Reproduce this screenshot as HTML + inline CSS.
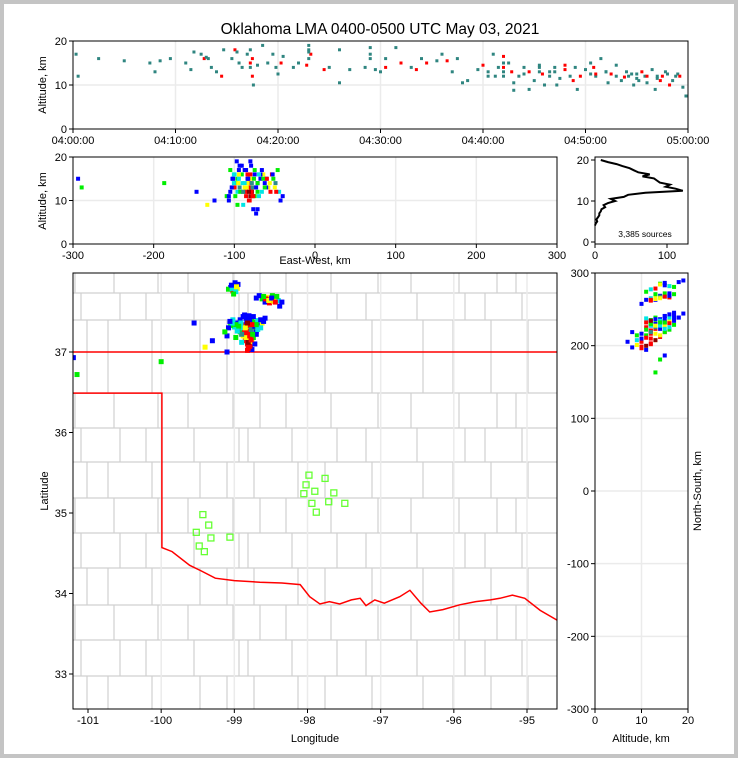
<!DOCTYPE html>
<html><head><meta charset="utf-8">
<style>
html,body{margin:0;padding:0;background:#fff}
#frame{position:absolute;left:0;top:0;width:730px;height:750px;border:4px solid #c4c4c4;background:#fff}
svg{position:absolute;left:0;top:0}
text{font-family:"Liberation Sans",sans-serif;fill:#000}
</style></head>
<body>
<div id="frame"></div>
<svg id="fig" width="738" height="758"></svg>
<script>
// ---- data ----
const timeTicks = ["04:00:00","04:10:00","04:20:00","04:30:00","04:40:00","04:50:00","05:00:00"];
const altTicks = [0,10,20];
const ewTicks = [-300,-200,-100,0,100,200,300];
const lonTicks = [-101,-100,-99,-98,-97,-96,-95];
const latTicks = [33,34,35,36,37];
const nsTicks = [-300,-200,-100,0,100,200,300];
const histTicks = [0,100];
const altTicksR = [0,10,20];
// time-height sources: [minutes, alt km, colorIdx(0 teal,1 red)]
const tsTime = [0.3,0.5,2.5,5,7.5,8,8.5,9.5,11,11.8,12.5,12.8,13,13.5,14,14.5,14.7,15.5,15.8,16,16.5,17,17.5,17.5,17.6,18,18.5,19,19.5,20,20.3,20.5,21.5,22,22.8,23,23,23.2,24.5,25,26,26,27,28.5,29,29.5,30,30.5,30.5,31.5,32,33,33.5,34,34.5,35.5,36,36.5,37,37.5,38,38.5,39.5,40,40.5,41,41.5,42,42,42.5,42.8,43,43.5,44,44.5,45,45.5,45.8,46,46.5,47,47.5,48,48.5,49,49.5,50,50.5,50.8,51,51.5,52,52.5,53,53.5,54,54.5,55,55.5,55.8,56,56.5,57,57.3,57.8,58.5,59,59.5,59.8,58.2,56.8,54.7,52.2,49.2,47.2,44.5,43,48.8,53.8,
 17.3,17.3,17.3,23,23,29,29,42,42,42,45.5,45.5,46.5,48,50.5,52,55,56,57,58,59.2,40.5,41.2,44,47,51,53,54.2,55.2,57.5,58.8,11.5,16.2,19.8,13.2];
const tsAlt = [17,12,16,15.5,15,13,15.5,16,15,17.5,17,16,16.3,14,13,12,18,16,18,17.5,14,17,16,12,10,14.5,19,15,17,12.5,15,16.5,14,15,14.5,19,16,17,13.5,14,18,10.5,13.5,14,18.5,13.5,13,14,16,18.5,15,14,13.5,16,15,15.5,17,15.5,13,16,10.5,11,13.5,14.5,13,17,14,12,16.5,15,13,10.5,12,14,13,11,14.5,12.5,10,13,14,11.5,13.5,12,14,12,13.5,15,14,12,16,13,12.5,14.5,11,13,12.5,11.5,13,12,10.5,13.5,12,11,13,11,12.5,9.5,7.5,10,9,10,10.5,9,10,9,8.8,11,11.8,
 14,15,18,18,17.5,17,16,15,14,13,14,13,12,14.5,12.5,13,12.5,12,11.5,12.5,12,12,12,12.5,13,12.5,12,12,11,12,12,13.5,15,14,16];
const tsColor = [0,0,0,0,0,0,0,0,0,0,0,1,0,0,0,1,0,0,1,0,0,0,1,1,0,0,0,0,0,0,1,0,0,0,1,0,0,1,1,0,0,0,0,0,0,0,0,1,0,0,1,0,1,0,1,0,0,1,0,0,0,0,0,1,0,0,0,0,1,0,1,0,0,0,1,0,0,1,0,0,0,0,1,0,0,1,0,0,1,0,0,0,1,0,0,0,0,0,1,0,0,0,0,1,0,0,0,0,0,1,0,0,0,0,0,0,0,1,1,
 0,1,0,0,0,0,0,0,1,0,0,0,0,1,0,0,0,1,0,0,1,0,0,0,0,1,0,0,0,1,0,0,0,0,0];
// located sources
const srcLon = [-98.80,-98.78,-98.82,-98.76,-98.85,-98.80,-98.74,-98.88,-98.83,-98.78,-98.92,-98.70,-98.95,-98.86,-98.80,-98.74,-99.00,-98.90,-98.84,-98.66,-99.05,-98.96,-98.78,-98.70,-98.62,-99.08,-98.92,-98.84,-98.76,-98.68,-98.60,-99.10,-98.98,-98.70,-98.72,-98.90,-98.82,-98.76,-99.13,-98.86,-98.80,-98.64,-98.58,-99.02,
 -99.05,-99.00,-98.96,-99.02,-98.98,-99.08,-98.95,-98.99,-99.01,
 -98.70,-98.62,-98.55,-98.50,-98.45,-98.40,-98.35,-98.48,-98.58,-98.42,-98.38,-98.66,-98.52,-98.46,
 -99.55,-99.30,-99.40,-99.10,-100.0,-101.2,-101.15,
 -98.79,-98.81,-98.77,-98.84,-98.79,-98.82,-98.75,-98.88,-98.86,-98.80,-98.83,-98.77,-98.91,-98.94,-98.72,-98.68,-98.98,-99.03,-98.88,-98.74,-98.79,-98.85,-98.90,-98.81,-98.70,-98.96,-99.06,-98.64,-98.76,-98.82,
 -98.57,-98.53,-98.49,-98.60,-98.44,-99.03,-98.97,-99.04];
const srcLat = [37.05,37.08,37.10,37.12,37.14,37.16,37.18,37.20,37.22,37.24,37.25,37.26,37.28,37.28,37.30,37.31,37.31,37.33,37.34,37.34,37.33,37.36,37.36,37.37,37.36,37.30,37.40,37.42,37.40,37.39,37.38,37.20,37.18,37.22,37.10,37.12,37.02,37.03,37.25,37.46,37.45,37.30,37.42,37.40,
 37.80,37.82,37.79,37.76,37.75,37.78,37.84,37.86,37.72,
 37.67,37.66,37.68,37.65,37.66,37.64,37.62,37.70,37.62,37.69,37.57,37.70,37.61,37.63,
 37.36,37.14,37.06,37.00,36.88,36.93,36.72,
 37.07,37.12,37.15,37.18,37.20,37.26,37.22,37.30,37.24,37.33,37.38,37.28,37.36,37.32,37.32,37.28,37.34,37.36,37.44,37.44,37.40,37.30,37.22,37.04,37.34,37.26,37.38,37.40,37.34,37.36,
 37.66,37.64,37.67,37.69,37.62,37.79,37.81,37.83];
const srcAlt = [11,12,10,13,12,14,11,13,15,12,16,14,13,11,15,17,14,12,16,15,13,17,14,12,16,12,18,15,13,11,14,10,9,8,7,9,10,8,11,17,19,12,15,16,
 15,14,16,13,12,17,18,19,11,
 14,15,13,16,14,12,11,15,13,17,10,16,12,13,
 12,10,9,11,14,15,13,
 12,13,11,14,12,13,15,14,12,16,15,13,14,12,13,16,15,14,17,16,18,13,12,10,14,15,13,17,11,12,
 15,14,16,13,12,16,14,15];
const srcColor = [5,4,4,3,4,4,2,3,4,5,2,0,6,4,3,2,1,2,4,0,2,0,6,2,3,0,0,0,2,1,0,0,2,0,0,1,4,0,2,0,0,1,0,1,
 0,2,3,4,1,2,0,0,2,
 0,2,3,4,6,1,0,2,0,2,0,0,4,3,
 0,0,3,0,2,0,2,
 4,5,4,3,4,4,2,1,4,4,0,6,1,2,0,1,2,1,0,0,0,3,6,4,2,1,0,0,4,5,
 4,3,0,2,4,1,3,0];
// stations
const staLon = [-97.98,-97.76,-98.02,-97.90,-97.64,-98.05,-97.94,-97.71,-97.49,-97.88,-99.43,-99.35,-99.52,-99.32,-99.06,-99.48,-99.41];
const staLat = [35.47,35.43,35.35,35.27,35.25,35.24,35.12,35.14,35.12,35.01,34.98,34.85,34.76,34.69,34.70,34.59,34.52];
// altitude histogram (counts per altitude)
const histAlt = [20,19.5,19,18.5,18,17.5,17,16.5,16,15.5,15,14.5,14,13.5,13,12.5,12,11.5,11,10.5,10,9.5,9,8.5,8,7.5,7,6.5,6,5.5,5,4.5,4];
const histCnt = [8,18,30,38,48,54,60,76,66,82,86,90,104,98,112,122,70,46,40,22,28,18,12,14,9,8,6,6,4,2,3,1,0];
// state boundary (lon,lat)
const bndLon = [-101.3,-99.99,-99.99,-99.85,-99.61,-99.45,-99.26,-99.0,-98.65,-98.35,-98.10,-97.97,-97.83,-97.70,-97.56,-97.40,-97.28,-97.20,-97.08,-96.95,-96.74,-96.60,-96.45,-96.33,-96.15,-95.92,-95.70,-95.50,-95.37,-95.20,-95.03,-94.82,-94.59];
const bndLat = [36.49,36.49,34.57,34.52,34.35,34.28,34.19,34.16,34.14,34.13,34.11,33.96,33.87,33.90,33.87,33.92,33.94,33.85,33.92,33.88,33.96,34.04,33.88,33.77,33.80,33.86,33.90,33.92,33.94,33.98,33.94,33.79,33.67];

const palette = ["#0000ff","#00e5e5","#00ee00","#ffff00","#ff0000","#8b0000","#2e8b8b"];
const tsPal = ["#2f8580","#ff0000"];

// ---- helpers ----
const NS = "http://www.w3.org/2000/svg";
const svg = document.getElementById("fig");
function el(tag, attrs, parent){const e=document.createElementNS(NS,tag);for(const k in attrs)e.setAttribute(k,attrs[k]);(parent||svg).appendChild(e);return e;}
function txt(x,y,s,size,anchor,parent,rot){const t=el("text",{x:x,y:y,"font-size":size,"text-anchor":anchor||"middle"},parent);if(rot)t.setAttribute("transform","rotate(-90 "+x+" "+y+")");t.textContent=s;return t;}
function lin(a0,a1,p0,p1){return v=>p0+(v-a0)/(a1-a0)*(p1-p0);}

const P1={x0:73,x1:688,y0:41,y1:129};
const P2={x0:73,x1:557,y0:157,y1:244};
const P3={x0:595,x1:688,y0:157,y1:244};
const P4={x0:73,x1:557,y0:273,y1:709};
const P5={x0:595,x1:688,y0:273,y1:709};

function gridV(P,xs,g){xs.forEach(x=>{const l=el("line",{x1:x,x2:x,y1:P.y0,y2:P.y1,stroke:"#ebebeb","stroke-width":1.5},g);});}
function gridH(P,ys,g){ys.forEach(y=>{const l=el("line",{y1:y,y2:y,x1:P.x0,x2:P.x1,stroke:"#ebebeb","stroke-width":1.5},g);});}
function frame(P,name){const r=el("rect",{x:P.x0,y:P.y0,width:P.x1-P.x0,height:P.y1-P.y0,fill:"none",stroke:"#000","stroke-width":1});}
function ticksX(P,vals,fx,labels,g){vals.forEach((v,i)=>{const x=fx(v);el("line",{x1:x,x2:x,y1:P.y1,y2:P.y1+4,stroke:"#000"},g);const t=txt(x,P.y1+15,labels[i],11,"middle",g);});}
function ticksY(P,vals,fy,labels,g){vals.forEach((v,i)=>{const y=fy(v);el("line",{x1:P.x0-4,x2:P.x0,y1:y,y2:y,stroke:"#000"},g);const t=txt(P.x0-6,y+4,labels[i],11,"end",g);});}

const title=txt(380,34,"Oklahoma LMA 0400-0500 UTC May 03, 2021",15.5,"middle");


// ---- Panel 1 ----
const g1=el("g",{});
const t2x=lin(0,60,P1.x0,P1.x1), a2y1=lin(0,20,P1.y1,P1.y0);
gridV(P1,[10,20,30,40,50].map(t2x),g1);gridH(P1,[a2y1(10)],g1);
tsTime.forEach((t,i)=>{const r=el("rect",{x:t2x(t)-1.5,y:a2y1(tsAlt[i])-1.5,width:3,height:3,fill:tsPal[tsColor[i]]},g1);});
frame(P1,"time-height-axes");
ticksX(P1,[0,10,20,30,40,50,60],t2x,timeTicks,g1);
ticksY(P1,altTicks,a2y1,altTicks.map(String),g1);
const yl1=txt(46,85,"Altitude, km",11,"middle",null,true);

const lon2ew = lon=>(lon+97.9)*89;
const lat2ns = lat=>(lat-35.25)*111;

// ---- Panel 2 ----
const g2=el("g",{});
const ew2x=lin(-300,300,P2.x0,P2.x1), a2y2=lin(0,20,P2.y1,P2.y0);
gridV(P2,[-200,-100,0,100,200].map(ew2x),g2);gridH(P2,[a2y2(10)],g2);
srcLon.forEach((lon,i)=>{const r=el("rect",{x:ew2x(lon2ew(lon))-2,y:a2y2(srcAlt[i])-2,width:4,height:4,fill:palette[srcColor[i]]},g2);});
frame(P2,"ew-altitude-axes");
ticksX(P2,ewTicks,ew2x,ewTicks.map(String),g2);
ticksY(P2,altTicks,a2y2,altTicks.map(String),g2);
const yl2=txt(46,201,"Altitude, km",11,"middle",null,true);
const xl2=txt(315,264,"East-West, km",11);

// ---- Panel 3 ----
const g3=el("g",{});
const c2x=lin(0,100,P3.x0,P3.x0+72), a2y3=lin(0,20,242,160);
const hp=histAlt.map((a,i)=>(i?"L":"M")+c2x(histCnt[i]).toFixed(1)+","+a2y3(a).toFixed(1)).join("");
const hl=el("path",{d:hp,fill:"none",stroke:"#000","stroke-width":2},g3);
frame(P3,"histogram-axes");
ticksX(P3,histTicks,c2x,histTicks.map(String),g3);
ticksY(P3,altTicksR,a2y3,altTicksR.map(String),g3);
const sc=txt(645,237,"3,385 sources",8.5);

// ---- Panel 4: map ----
const g4=el("g",{});
const lon2x=lin(-101,-95,88,527), lat2y=lin(37,33,352,674);
const clip=el("clipPath",{id:"mapclip"});el("rect",{x:P4.x0,y:P4.y0,width:P4.x1-P4.x0,height:P4.y1-P4.y0},clip);
const gm=el("g",{"clip-path":"url(#mapclip)"},g4);
const cv=[81,114,152,194,233,254,292,331,372,417,459,491,522];
const ch=[293,320,393,428,462,498,533,568,605,640,676];
cv.forEach((x,i)=>{ch.concat([709]).reduce((py,y,j)=>{const off=((i+j)%3-1)*6;const l=el("line",{x1:x+off,x2:x+off,y1:py,y2:y,stroke:"#d0d0d0","stroke-width":1.2},gm);return y;},273);});
ch.forEach((y,j)=>{const l=el("line",{x1:P4.x0,x2:P4.x1,y1:y,y2:y,stroke:"#d0d0d0","stroke-width":1.2},gm);});
gridV(P4,[-100,-99,-98,-97,-96,-95].map(lon2x),gm);
const bd=el("path",{d:"M"+lon2x(-101.3)+","+lat2y(37)+"L"+P4.x1+","+lat2y(37)+"M"+bndLon.map((lo,i)=>lon2x(lo).toFixed(1)+","+lat2y(bndLat[i]).toFixed(1)).join("L"),fill:"none",stroke:"#ff0000","stroke-width":1.5},gm);

staLon.forEach((lo,i)=>{const r=el("rect",{x:lon2x(lo)-3,y:lat2y(staLat[i])-3,width:6,height:6,fill:"none",stroke:"#66ff33","stroke-width":1.3},gm);});
srcLon.forEach((lo,i)=>{const r=el("rect",{x:lon2x(lo)-2.5,y:lat2y(srcLat[i])-2.5,width:5,height:5,fill:palette[srcColor[i]]},gm);});
frame(P4,"map-axes");
ticksX(P4,lonTicks,lon2x,lonTicks.map(String),g4);
ticksY(P4,latTicks,lat2y,latTicks.map(String),g4);
const xl4=txt(315,742,"Longitude",11);
const yl4=txt(48,491,"Latitude",11,"middle",null,true);

// ---- Panel 5 ----
const g5=el("g",{});
const a2x5=lin(0,20,P5.x0,P5.x1), ns2y=lin(-300,300,P5.y1,P5.y0);
gridV(P5,[a2x5(10)],g5);gridH(P5,[-200,-100,0,100,200].map(ns2y),g5);
srcLat.forEach((la,i)=>{const r=el("rect",{x:a2x5(srcAlt[i])-2,y:ns2y(lat2ns(la))-2,width:4,height:4,fill:palette[srcColor[i]]},g5);});
frame(P5,"altitude-ns-axes");
ticksX(P5,altTicksR,a2x5,altTicksR.map(String),g5);
ticksY(P5,nsTicks,ns2y,nsTicks.map(String),g5);
const xl5=txt(641,742,"Altitude, km",11);
const yl5=txt(701,491,"North-South, km",11,"middle",null,true);
</script>
</body></html>
